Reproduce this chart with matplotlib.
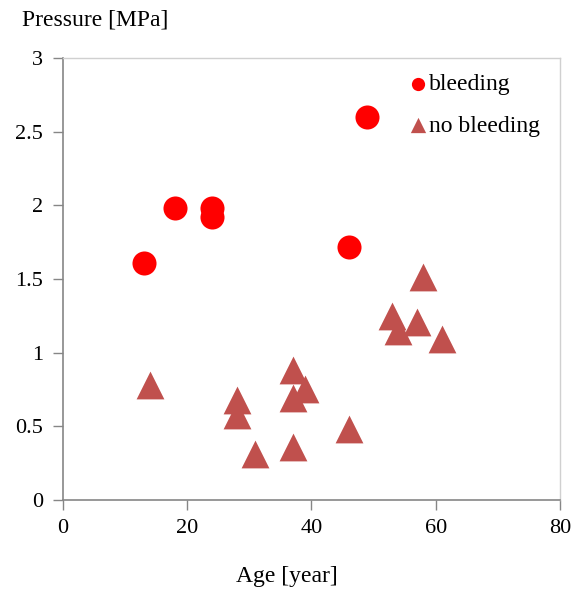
import matplotlib.pyplot as plt

# bleeding group
bleed_age = [13, 18, 24, 24, 46, 49]
bleed_pressure = [1.61, 1.98, 1.98, 1.92, 1.72, 2.60]

# no bleeding group
nobleed_age = [14, 28, 28, 31, 37, 37, 39, 37, 46, 53, 54, 57, 58, 61]
nobleed_pressure = [0.78, 0.68, 0.58, 0.31, 0.88, 0.69, 0.75, 0.36, 0.48, 1.25, 1.15, 1.21, 1.51, 1.09]

x_ticks = [0, 20, 40, 60, 80]
y_ticks = [0, 0.5, 1, 1.5, 2, 2.5, 3]
y_tick_labels = ['0', '0.5', '1', '1.5', '2', '2.5', '3']

plt.rcParams['font.family'] = ['Liberation Serif', 'DejaVu Serif']

fig = plt.figure(figsize=(5.81, 5.91), dpi=100)
ax = fig.add_axes([0.108, 0.154, 0.856, 0.748])

ax.scatter(bleed_age, bleed_pressure, s=300, marker='o', color='#ff0000',
           linewidths=0, label='bleeding', zorder=3)
ax.scatter(nobleed_age, nobleed_pressure, s=400, marker='^', color='#c0504d',
           linewidths=0, label='no bleeding', zorder=3)

ax.set_xlim(0, 80)
ax.set_ylim(0, 3)
ax.set_xticks(x_ticks)
ax.set_yticks(y_ticks)
ax.set_yticklabels(y_tick_labels)
ax.tick_params(direction='out', length=7, width=1, color='#868686',
               labelsize=16, pad=7)

for side in ['left', 'bottom']:
    ax.spines[side].set_color('#868686')
    ax.spines[side].set_linewidth(1.2)
for side in ['top', 'right']:
    ax.spines[side].set_color('#d0d0d0')
    ax.spines[side].set_linewidth(1)

fig.text(0.038, 0.966, 'Pressure [MPa]', fontsize=17, va='center', ha='left')
fig.text(0.494, 0.024, 'Age [year]', fontsize=17, va='center', ha='center')

leg = ax.legend(loc='upper right', bbox_to_anchor=(1.003, 1.013), frameon=False,
                fontsize=17, markerscale=0.55, handletextpad=-0.1,
                labelspacing=0.85, handlelength=1.2)

fig.savefig('out.png', dpi=100)
